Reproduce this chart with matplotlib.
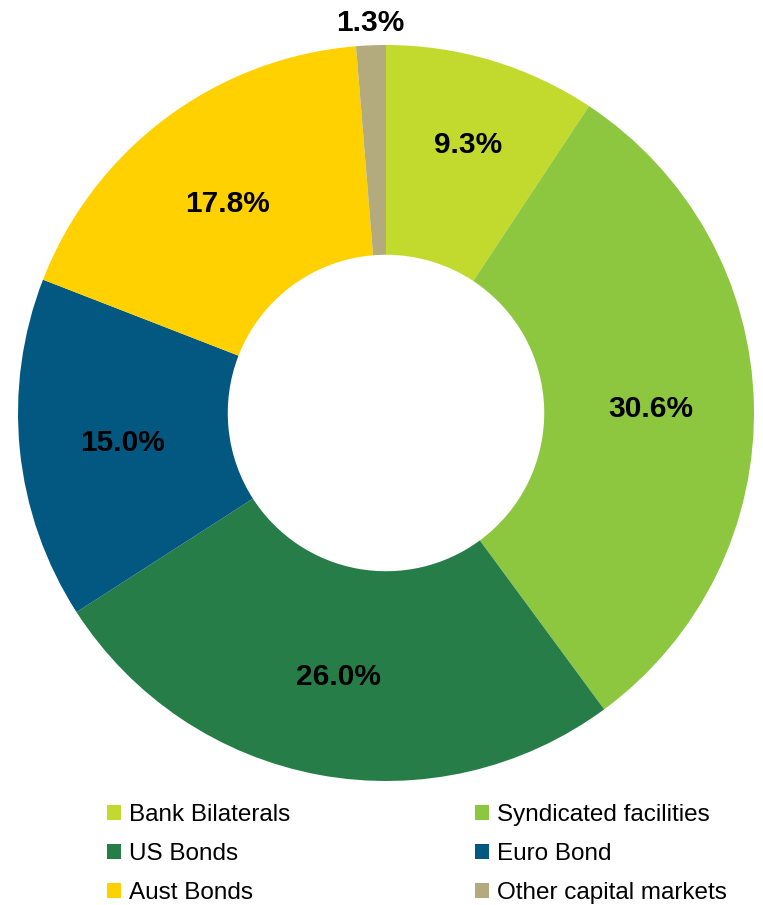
import numpy as np
import matplotlib.pyplot as plt
from matplotlib.patches import Patch

plt.rcParams['font.family'] = ['Liberation Sans', 'DejaVu Sans']

# funding mix
categories = ["Bank Bilaterals", "Syndicated facilities", "US Bonds",
              "Euro Bond", "Aust Bonds", "Other capital markets"]
shares = [9.3, 30.6, 26.0, 15.0, 17.8, 1.3]
colors = ["#C2D92E", "#8DC63F", "#267D48", "#025880", "#FFD100", "#B3AA7E"]

fig = plt.figure(figsize=(7.63, 9.05), dpi=100)
ax = fig.add_axes([0.0236, 0.137, 0.9646, 0.8133])

wedges, _ = ax.pie(shares, colors=colors, startangle=90, counterclock=False,
                   radius=1.0, wedgeprops=dict(width=0.57, linewidth=0))

# percentage labels, inside the ring unless the slice is tiny
for w, v in zip(wedges, shares):
    ang = np.deg2rad((w.theta1 + w.theta2) / 2)
    r = 0.72 if v > 5 else 1.07
    if v < 10 and v > 5:
        r = 0.77
    ax.text(r * np.cos(ang), r * np.sin(ang), f"{v:.1f}%",
            ha="center", va="center_baseline", fontsize=21.5, fontweight="bold")

ax.set_xlim(-1, 1)
ax.set_ylim(-1, 1)
ax.set_aspect("equal")
ax.axis("off")

# legend rows read across: reorder for column-major filling
order = [0, 2, 4, 1, 3, 5]
handles = [Patch(facecolor=colors[i], edgecolor="none") for i in order]
labels = [categories[i] for i in order]
fig.legend(handles, labels, ncol=2, loc="upper left",
           bbox_to_anchor=(0.128, 0.1225), frameon=False, fontsize=17.5,
           handlelength=0.55, handleheight=0.55, handletextpad=0.35,
           columnspacing=7.6, labelspacing=0.7, borderaxespad=0)

fig.savefig("out.png", dpi=100)
